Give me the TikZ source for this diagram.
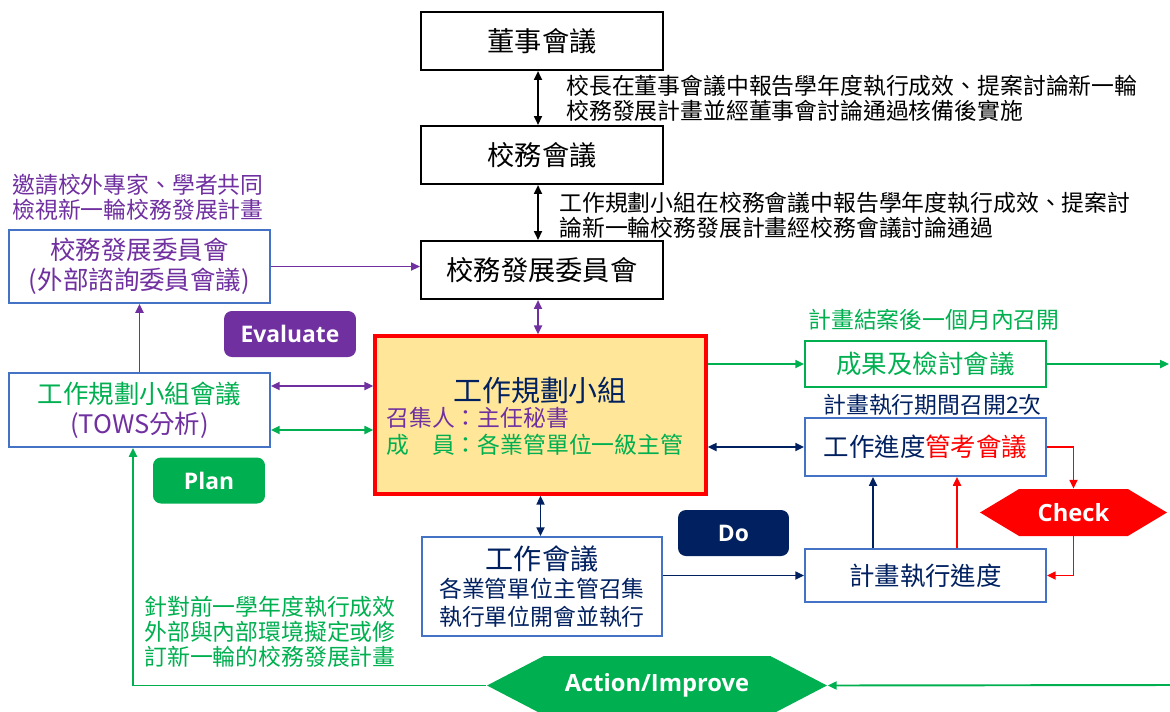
\documentclass[tikz,border=0pt]{standalone}
\usepackage{fontspec}
\setmainfont{Noto Sans CJK TC}
\newfontfamily\tagfont{Open Sans}
\usepackage{xcolor}
\usetikzlibrary{shapes, arrows.meta, positioning}
\definecolor{donavy}{HTML}{002060}
\definecolor{evalpurple}{HTML}{7030A0}
\definecolor{plangreen}{HTML}{00B050}
\definecolor{checkred}{HTML}{FF0000}
\definecolor{boxblue}{HTML}{4472C4}
\definecolor{coreyellow}{HTML}{FFE699}

\begin{document}
\begin{tikzpicture}[
                x=0.02cm, y=-0.02cm,
                >={Triangle[length=5pt, width=4.5pt]},
                titlebox/.style={draw, line width=1.2pt, minimum width=4.84cm, minimum height=1.16cm, font=\fontsize{15.5}{18}\selectfont},
                bluebox/.style={draw=boxblue, line width=1.1pt, minimum width=4.82cm, align=center, font=\fontsize{14.5}{17}\selectfont},
                tagbox/.style={rounded corners=4.5pt, text=white, minimum height=0.92cm, font=\tagfont\fontsize{13}{15}\selectfont\bfseries},
                hexa/.style={signal, signal to=west and east, text=white, inner sep=0pt, font=\tagfont\fontsize{13.5}{15}\selectfont\bfseries},
                note/.style={anchor=west, align=left, inner sep=0pt, font=\fontsize{13}{14.2}\selectfont},
                link/.style={line width=1.1pt}
            ]
                \useasboundingbox (0,0) rectangle (1170,711);

                % top chain
                \node[titlebox] (board) at (542,41) {董事會議};
                \node[titlebox] (council) at (542,155) {校務會議};
                \node[titlebox] (devcom) at (542,270) {校務發展委員會};
                \node[note] (boardnote) at (566,98) {校長在董事會議中報告學年度執行成效、提案討論新一輪\\校務發展計畫並經董事會討論通過核備後實施};
                \node[note] (councilnote) at (559,215) {工作規劃小組在校務會議中報告學年度執行成效、提案討\\論新一輪校務發展計畫經校務會議討論通過};

                % left side
                \node[note, text=evalpurple] (expertnote) at (12,197) {邀請校外專家、學者共同\\檢視新一輪校務發展計畫};
                \node[bluebox, minimum width=5.22cm, minimum height=1.46cm, text=evalpurple] (advisory) at (139.5,266.5) {校務發展委員會\\(外部諮詢委員會議)};
                \node[bluebox, minimum width=5.22cm, minimum height=1.48cm] (tows) at (139.5,410) {\textcolor{plangreen}{工作規劃小組會議}\\\textcolor{evalpurple}{(TOWS分析)}};
                \node[tagbox, fill=evalpurple, minimum width=2.64cm] (evaluate) at (290,334) {Evaluate};
                \node[tagbox, fill=plangreen, minimum width=2.24cm] (plan) at (209,480.5) {Plan};
                \node[note, text=plangreen] (reviewnote) at (144,632) {針對前一學年度執行成效\\外部與內部環境擬定或修\\訂新一輪的校務發展計畫};

                % core group
                \node[draw=checkred, line width=2pt, fill=coreyellow, minimum width=6.62cm, minimum height=3.16cm] (core) at (540.5,415) {};
                \node[text=donavy, font=\fontsize{16.5}{18}\selectfont] (coretitle) at (540,390) {工作規劃小組};
                \node[note, text=evalpurple] (corechair) at (386,418) {召集人：主任秘書};
                \node[note, text=plangreen] (coremember) at (386,445) {成　員：各業管單位一級主管};

                \node[bluebox, minimum width=4.8cm, minimum height=1.98cm, text=donavy, font=\fontsize{13}{16}\selectfont] (work) at (542,586.5) {{\fontsize{16}{20}\selectfont 工作會議}\\各業管單位主管召集\\執行單位開會並執行};
                \node[tagbox, fill=donavy, minimum width=2.22cm] (do) at (733.5,533) {Do};

                % right side
                \node[note, text=plangreen] (closenote) at (808,320) {計畫結案後一個月內召開};
                \node[bluebox, draw=plangreen, minimum height=0.92cm, text=plangreen] (outcome) at (925.5,364) {成果及檢討會議};
                \node[note, text=donavy] (twicenote) at (823,405) {計畫執行期間召開2次};
                \node[bluebox, minimum height=1.16cm, text=donavy] (progress) at (925.5,447) {工作進度\textcolor{checkred}{管考會議}};
                \node[bluebox, minimum height=1.06cm, text=donavy] (exec) at (925.5,575.5) {計畫執行進度};
                \node[hexa, fill=checkred, minimum width=3.74cm, minimum height=0.94cm, signal pointer angle=62] (check) at (1073.5,512.5) {Check};
                \node[hexa, fill=plangreen, minimum width=6.8cm, minimum height=1.18cm, signal pointer angle=55] (action) at (657,685.5) {Action/Improve};

                \coordinate (outR) at (1169,364);
                \coordinate (inR) at (1170,685);
                \coordinate (towsup) at ([yshift=0.48cm]tows.east);
                \coordinate (towsdown) at ([yshift=-0.4cm]tows.east);

                \draw[<->, link] ([xshift=-0.08cm]board.south) -- ([xshift=-0.08cm]council.north);
                \draw[<->, link] ([xshift=-0.08cm]council.south) -- ([xshift=-0.08cm]devcom.north);
                \draw[<->, link, evalpurple] ([xshift=-0.08cm]devcom.south) -- ([xshift=-0.05cm]core.north);
                \draw[->, link, evalpurple] (advisory.east) -- (advisory.east -| devcom.west);
                \draw[->, link, evalpurple] (tows) -- (advisory);
                \draw[<->, link, evalpurple] (towsup) -- (towsup -| core.west);
                \draw[<->, link, plangreen] (towsdown) -- (towsdown -| core.west);
                \draw[<->, link, donavy] (core.south) -- (core.south |- work.north);
                \draw[->, link, donavy] (work.east |- exec.west) -- (exec.west);
                \draw[->, link, plangreen] (outcome.west -| core.east) -- (outcome.west);
                \draw[->, link, plangreen] (outcome.east) -- (outR);
                \draw[<->, link, donavy] (progress.west -| core.east) -- (progress.west);
                \draw[->, link, checkred] (progress.east) -| (check.north);
                \draw[->, link, checkred] (check.south) |- (exec.east);
                \draw[->, link, donavy] ([xshift=-1.05cm]exec.north) -- ([xshift=-1.05cm]progress.south);
                \draw[->, link, checkred] ([xshift=0.63cm]exec.north) -- ([xshift=0.63cm]progress.south);
                \draw[->, link, plangreen] (inR) -- (action.east);
                \draw[->, link, plangreen] (action.west) -| ([xshift=-0.13cm]tows.south);
            \end{tikzpicture}
\end{document}
